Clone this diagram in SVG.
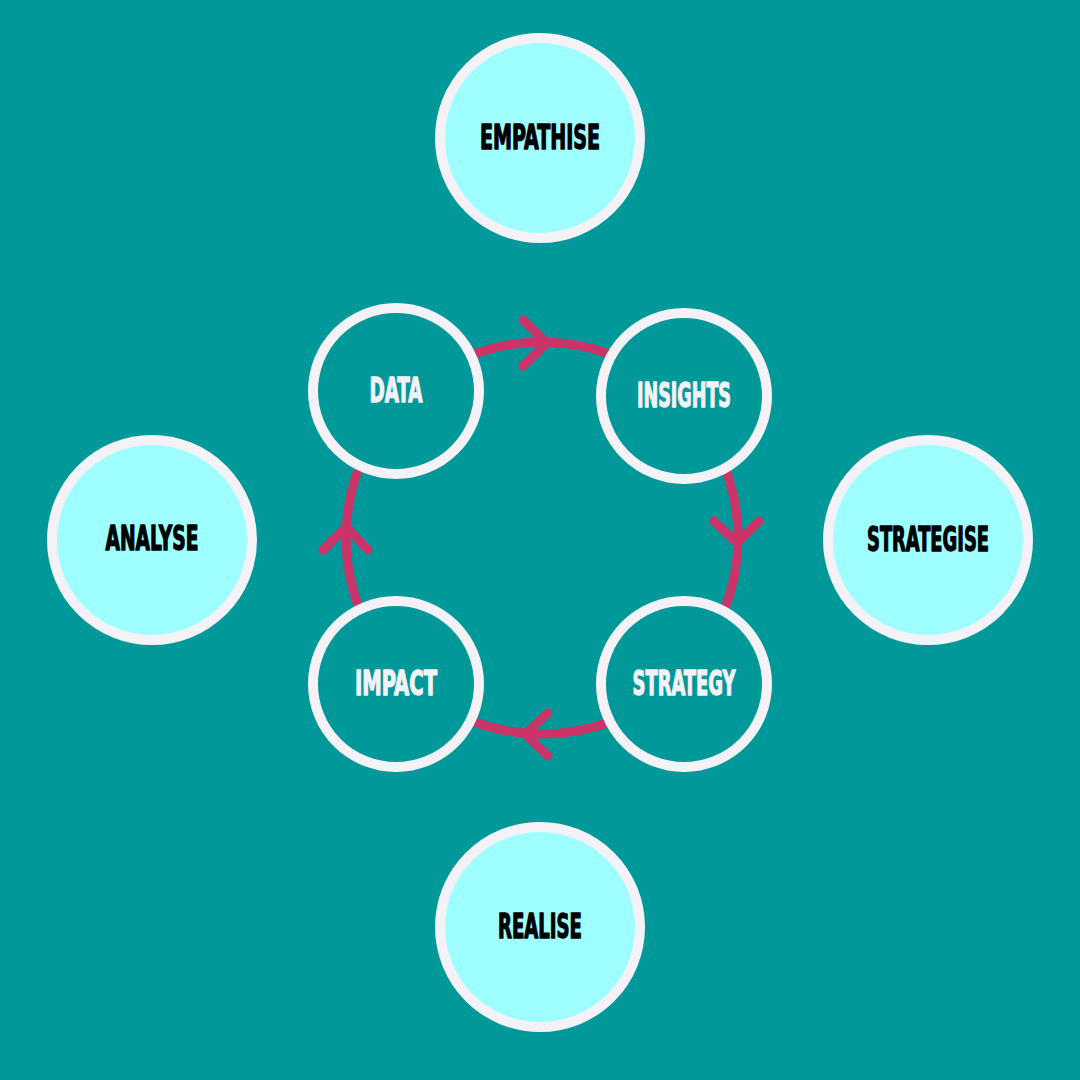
<svg xmlns="http://www.w3.org/2000/svg" width="1080" height="1080" viewBox="0 0 1080 1080">
  <style>
    .outer { fill: #9FFFFF; stroke: #F4F2F7; stroke-width: 10; }
    .inner { fill: #009898; stroke: #F4F2F7; stroke-width: 10; }
    .lbl { font-family: "DejaVu Sans Condensed", "DejaVu Sans", "Liberation Sans", sans-serif; font-stretch: condensed; font-weight: bold; font-size: 33px; text-anchor: middle; stroke-width: 1.3; stroke-linejoin: round; }
    .dark { fill: #000000; stroke: #000000; }
    .light { fill: #F4F2F7; stroke: #F4F2F7; }
    .flow { fill: none; stroke: #CC3469; stroke-width: 9; stroke-linecap: round; stroke-linejoin: round; }
  </style>
  <rect width="1080" height="1080" fill="#009898"/>
  <g id="connectors">
    <circle class="flow" cx="542" cy="538" r="196"/>
    <polyline class="flow" points="523,320 547,343 523,366"/>
    <polyline class="flow" points="714,521 737,543 759,521"/>
    <polyline class="flow" points="548,713 525,734 548,756"/>
    <polyline class="flow" points="323,550 346,527 368,550"/>
  </g>
  <g id="empathise">
    <circle class="outer" cx="540" cy="138" r="100"/>
    <text class="lbl dark" x="540" y="149" textLength="120" lengthAdjust="spacingAndGlyphs">EMPATHISE</text>
  </g>
  <g id="analyse">
    <circle class="outer" cx="152" cy="540" r="100"/>
    <text class="lbl dark" x="152" y="550" textLength="93" lengthAdjust="spacingAndGlyphs">ANALYSE</text>
  </g>
  <g id="strategise">
    <circle class="outer" cx="928" cy="540" r="100"/>
    <text class="lbl dark" x="928" y="551" textLength="122" lengthAdjust="spacingAndGlyphs">STRATEGISE</text>
  </g>
  <g id="realise">
    <circle class="outer" cx="540" cy="927" r="100"/>
    <text class="lbl dark" x="540" y="938" textLength="84" lengthAdjust="spacingAndGlyphs">REALISE</text>
  </g>
  <g id="data">
    <circle class="inner" cx="396" cy="391" r="83"/>
    <text class="lbl light" x="396" y="402" textLength="53" lengthAdjust="spacingAndGlyphs">DATA</text>
  </g>
  <g id="insights">
    <circle class="inner" cx="684" cy="396" r="83"/>
    <text class="lbl light" x="684" y="407" textLength="94" lengthAdjust="spacingAndGlyphs">INSIGHTS</text>
  </g>
  <g id="strategy">
    <circle class="inner" cx="684" cy="684" r="83"/>
    <text class="lbl light" x="684" y="695" textLength="103" lengthAdjust="spacingAndGlyphs">STRATEGY</text>
  </g>
  <g id="impact">
    <circle class="inner" cx="396" cy="684" r="83"/>
    <text class="lbl light" x="396" y="695" textLength="82" lengthAdjust="spacingAndGlyphs">IMPACT</text>
  </g>
</svg>
